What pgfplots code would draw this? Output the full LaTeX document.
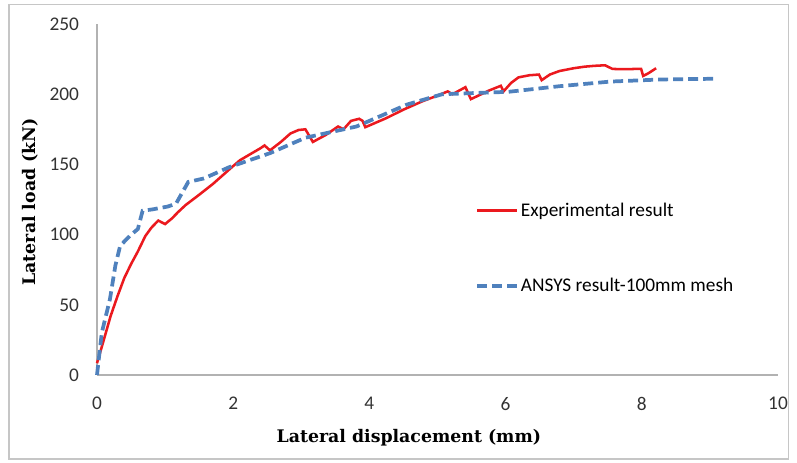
\documentclass[border=0pt]{standalone}
\usepackage{fontspec}
\setmainfont{Carlito}
\newfontfamily\labelfont{DejaVu Serif}
\usepackage{pgfplots}
\pgfplotsset{compat=1.18}
\definecolor{exred}{RGB}{235,25,30}
\definecolor{ansblue}{RGB}{79,129,189}
\pgfplotstableread{
x y
0.00 8.4
0.10 25
0.20 42
0.30 56
0.40 69
0.50 79
0.60 88
0.71 99
0.80 105
0.90 110
1.00 107.5
1.10 111.5
1.19 116
1.30 121
1.49 128
1.70 136
1.98 148
2.10 153
2.24 157
2.40 161.5
2.46 163.5
2.54 160
2.70 166
2.84 172
2.96 174.5
3.06 175
3.17 166
3.36 171
3.54 177
3.62 175
3.73 181
3.85 182.5
3.90 181
3.94 176.5
4.25 183
4.50 189
4.78 195
5.00 199
5.15 202
5.22 200
5.41 205
5.49 196.5
5.60 199
5.75 202.5
5.93 206
5.97 202
6.08 208
6.19 212
6.35 213.5
6.49 214
6.53 210
6.65 214
6.79 216.5
7.00 218.5
7.16 219.6
7.30 220.2
7.46 220.6
7.57 218
7.75 217.8
7.91 218
7.99 218
8.02 213
8.10 215
8.21 218.5
}\expdata
\pgfplotstableread{
x y
0.00 0
0.07 30
0.19 54
0.27 78
0.34 92
0.48 99
0.60 104
0.67 117
0.82 118
1.04 120
1.16 122
1.34 137.5
1.57 140
1.94 148
2.54 158
3.06 169
3.81 177
4.55 192.6
5.07 200
6.04 201.7
6.79 205.7
7.54 209
8.28 210.5
9.07 211
}\ansdata
\begin{document}
\begin{tikzpicture}
\useasboundingbox (-72.75pt,-65.25pt) rectangle (525pt,281.25pt);
\draw[gray!45, line width=0.8pt] (-66pt,-63pt) rectangle (518.5pt,278pt);
\begin{axis}[
  at={(0pt,0pt)}, anchor=south west,
  scale only axis, width=510.75pt, height=263.25pt,
  xmin=0, xmax=10, ymin=0, ymax=250,
  axis x line*=bottom, axis y line*=left,
  axis line style={-, draw=gray!60, line width=0.8pt},
  major tick length=0pt,
  xtick={0,2,4,6,8,10}, ytick={0,50,100,150,200,250},
  /pgf/number format/assume math mode=true,
  tick label style={font=\fontsize{14.5}{16}\selectfont, text=black!80},
  xticklabel style={anchor=north, yshift=-13pt},
  yticklabel style={anchor=east, xshift=-10pt},
  legend style={draw=none, fill=none, at={(axis cs:5.49,126.5)}, anchor=north west,
     font=\fontsize{14.5}{16}\selectfont, row sep=41pt, nodes={inner xsep=1.5pt}},
  legend cell align=left,
  legend image code/.code={\draw[#1] (0pt,0pt) -- (30pt,0pt);},
  clip=false,
]
\addplot[exred, line width=1.9pt] table[x=x,y=y]{\expdata};
\addlegendentry{Experimental result}
\addplot[ansblue, line width=2.8pt, dash pattern=on 7.5pt off 3.75pt] table[x=x,y=y]{\ansdata};
\addlegendentry{ANSYS result-100mm mesh}
\node[font=\labelfont\bfseries\fontsize{13}{15}\selectfont, anchor=center] at (axis description cs:0.458,-0.1785) {Lateral displacement (mm)};
\node[font=\labelfont\bfseries\fontsize{13}{15}\selectfont, anchor=center, rotate=90] at (axis description cs:-0.0984,0.493) {Lateral load (kN)};
\end{axis}
\end{tikzpicture}
\end{document}
